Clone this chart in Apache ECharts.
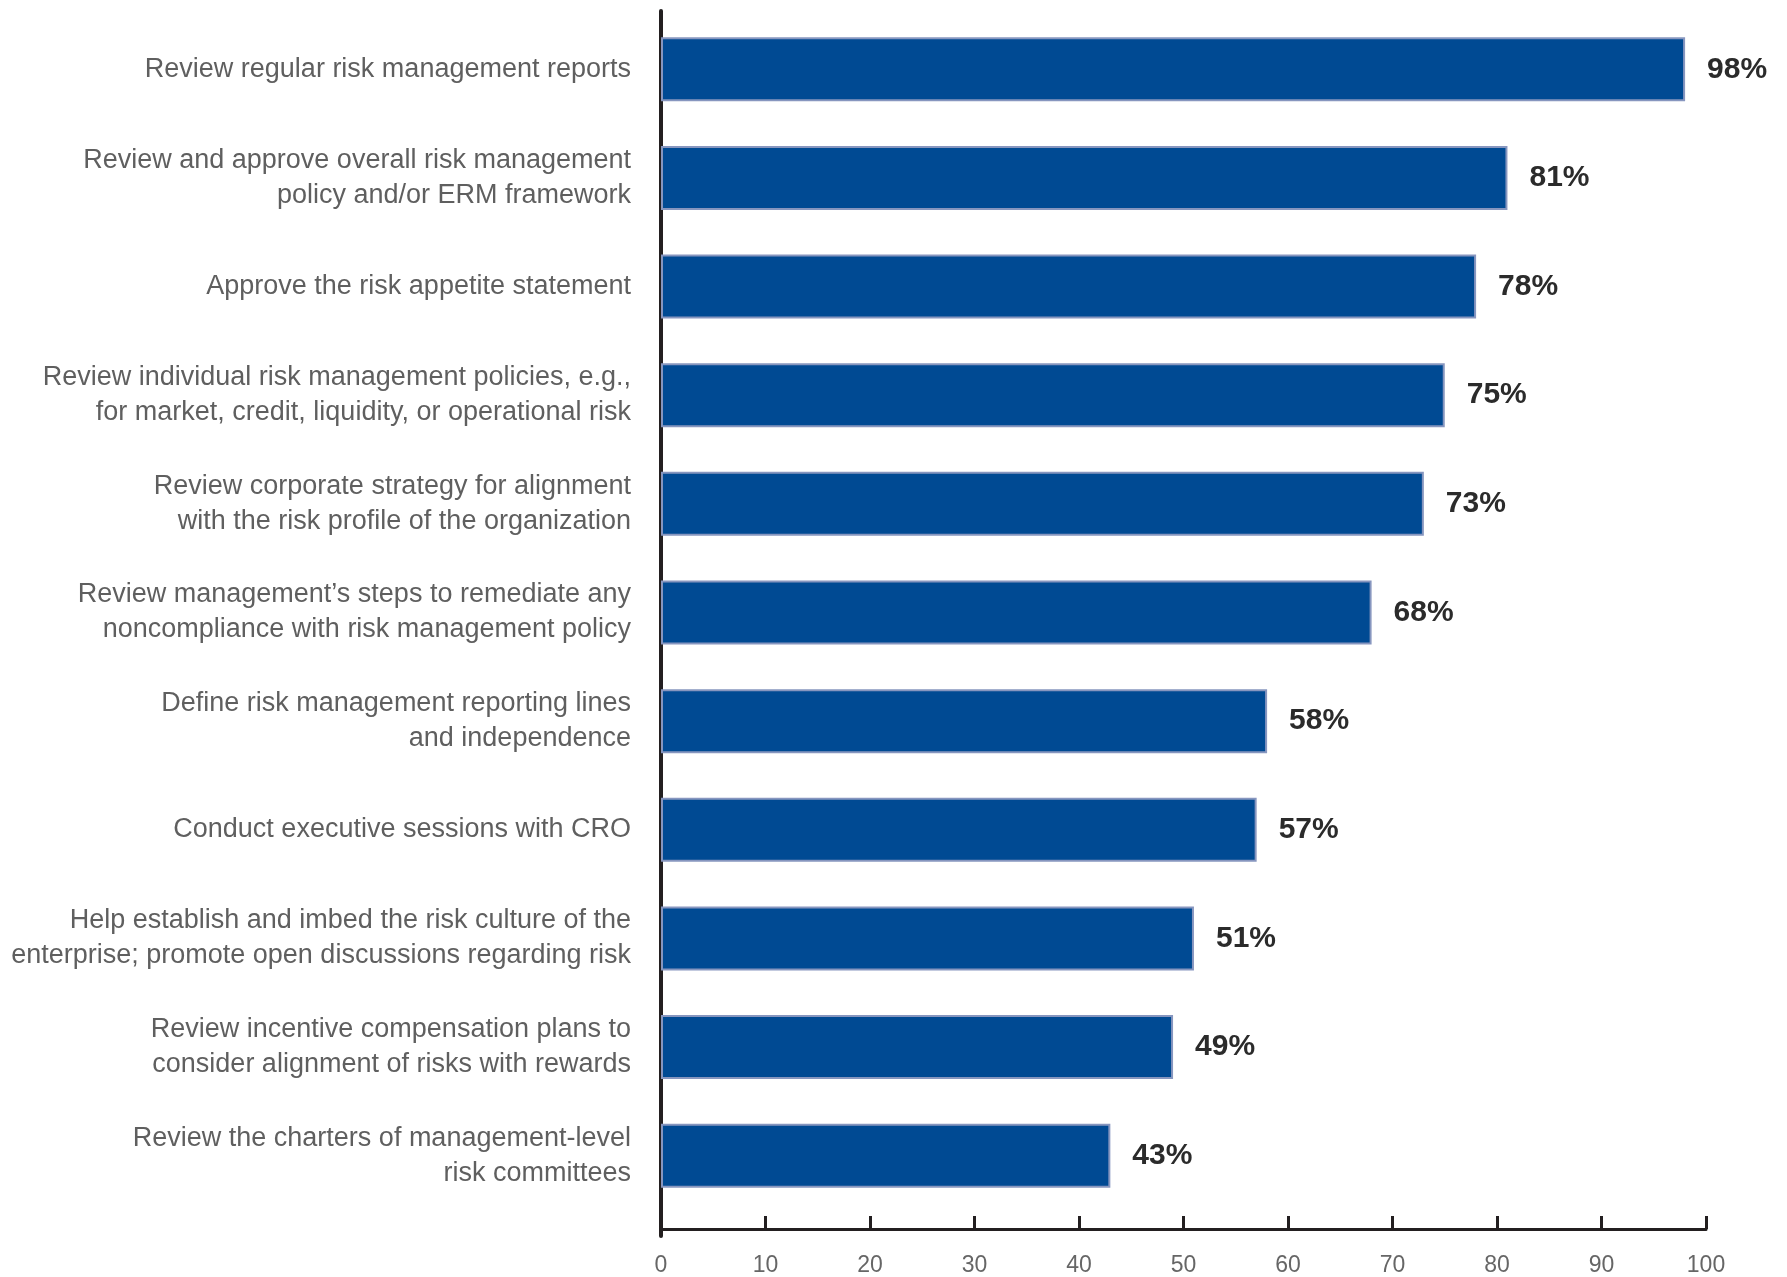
<!DOCTYPE html>
<html>
<head>
<meta charset="utf-8">
<script src="https://cdn.jsdelivr.net/npm/echarts@6/dist/echarts.min.js"></script>
<style>
  html, body { margin: 0; padding: 0; background: #fff; }
  #chart { width: 1787px; height: 1277px; }
</style>
</head>
<body>
<div id="chart"></div>
<script>
const categories = [
  'Review regular risk management reports',
  'Review and approve overall risk management\npolicy and/or ERM framework',
  'Approve the risk appetite statement',
  'Review individual risk management policies, e.g.,\nfor market, credit, liquidity, or operational risk',
  'Review corporate strategy for alignment\nwith the risk profile of the organization',
  'Review management\u2019s steps to remediate any\nnoncompliance with risk management policy',
  'Define risk management reporting lines\nand independence',
  'Conduct executive sessions with CRO',
  'Help establish and imbed the risk culture of the\nenterprise; promote open discussions regarding risk',
  'Review incentive compensation plans to\nconsider alignment of risks with rewards',
  'Review the charters of management-level\nrisk committees'
];
const values = [98, 81, 78, 75, 73, 68, 58, 57, 51, 49, 43];
const xTicks = [0, 10, 20, 30, 40, 50, 60, 70, 80, 90, 100];

const chart = echarts.init(document.getElementById('chart'));

const axisColor = '#231f20';
const font = 'Liberation Sans, Arial, sans-serif';

const option = {
  animation: false,
  grid: [
    { left: 661, right: 81, top: 15, bottom: 60, containLabel: false },
    { left: 661, width: 10, top: 11, bottom: 41, containLabel: false }
  ],
  xAxis: [
    {
      type: 'value',
      gridIndex: 0,
      min: xTicks[0],
      max: xTicks[xTicks.length - 1],
      interval: 10,
      offset: 19,
      axisLine: { show: true, lineStyle: { color: axisColor, width: 3 } },
      axisTick: { show: true, inside: true, length: 13, lineStyle: { color: axisColor, width: 3 } },
      axisLabel: { color: '#666', fontSize: 23, fontFamily: font, margin: 25 },
      splitLine: { show: false }
    },
    { type: 'value', gridIndex: 1, show: false }
  ],
  yAxis: [
    {
      type: 'category',
      gridIndex: 0,
      inverse: true,
      data: categories,
      axisLine: { show: false },
      axisTick: { show: false },
      axisLabel: {
        color: '#5f5f5f',
        fontSize: 27,
        fontFamily: font,
        lineHeight: 35,
        align: 'right',
        margin: 30,
        padding: [0, 0, 10, 0]
      }
    },
    {
      type: 'value',
      gridIndex: 1,
      axisLine: { show: true, lineStyle: { color: axisColor, width: 4 } },
      axisTick: { show: false },
      axisLabel: { show: false },
      splitLine: { show: false }
    }
  ],
  series: [
    {
      type: 'bar',
      xAxisIndex: 0,
      yAxisIndex: 0,
      data: values,
      barWidth: 64,
      itemStyle: { color: '#004a93', borderColor: '#8796bf', borderWidth: 2 },
      label: {
        show: true,
        position: 'right',
        distance: 22,
        formatter: '{c}%',
        color: '#2b2b2b',
        fontSize: 30,
        fontWeight: 'bold',
        fontFamily: font
      }
    }
  ]
};

chart.setOption(option);
</script>
</body>
</html>
